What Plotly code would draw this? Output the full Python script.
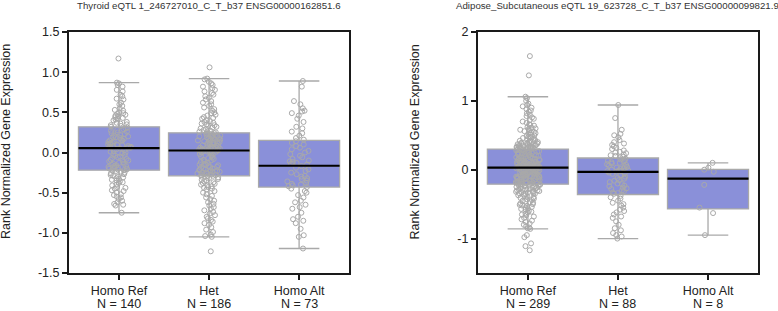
import plotly.graph_objects as go
from plotly.subplots import make_subplots

categories = ["Homo Ref", "Het", "Homo Alt"]

# ---- Panel 1: Thyroid ----
title1 = "Thyroid eQTL 1_246727010_C_T_b37 ENSG00000162851.6"
counts1 = [140, 186, 73]
q1_1 = [-0.22, -0.29, -0.43]
med_1 = [0.055, 0.025, -0.165]
q3_1 = [0.32, 0.245, 0.15]
lo_1 = [-0.75, -1.05, -1.195]
hi_1 = [0.87, 0.92, 0.89]

t_ref = [1.17, 0.87, 0.86, 0.84, 0.82, 0.78, 0.76, 0.72, 0.70, 0.67, 0.66, 0.62, 0.60, 0.58, 0.55,
         0.53, 0.52, 0.50, 0.49, 0.48, 0.47, 0.46, 0.45, 0.44, 0.43, 0.42, 0.41, 0.40, 0.38, 0.37,
         0.36, 0.35, 0.34, 0.33, 0.32,
         0.31, 0.30, 0.29, 0.28, 0.27, 0.26, 0.25, 0.24, 0.23, 0.22, 0.21, 0.20, 0.19, 0.19, 0.18,
         0.17, 0.16, 0.15, 0.15, 0.14, 0.13, 0.12, 0.12, 0.11, 0.10, 0.10, 0.09, 0.09, 0.08, 0.08,
         0.07, 0.07, 0.06, 0.06, 0.06,
         0.05, 0.04, 0.03, 0.02, 0.01, 0.00, -0.01, -0.02, -0.03, -0.04, -0.05, -0.06, -0.07, -0.08,
         -0.09, -0.10, -0.10, -0.11, -0.12, -0.13, -0.14, -0.14, -0.15, -0.16, -0.17, -0.17, -0.18,
         -0.19, -0.19, -0.20, -0.20, -0.21, -0.21, -0.22, -0.22,
         -0.23, -0.24, -0.25, -0.26, -0.27, -0.28, -0.29, -0.30, -0.31, -0.32, -0.33, -0.34, -0.35,
         -0.36, -0.37, -0.38, -0.40, -0.41, -0.43, -0.44, -0.45, -0.47, -0.48, -0.50, -0.52, -0.53,
         -0.55, -0.56, -0.58, -0.60, -0.62, -0.64, -0.65, -0.66, -0.75]
t_het = [1.06, 0.92, 0.91, 0.88, 0.86, 0.84, 0.82, 0.80, 0.78, 0.76, 0.74, 0.72, 0.70, 0.68, 0.66,
         0.64, 0.62, 0.60, 0.58, 0.56, 0.54, 0.52, 0.50, 0.49, 0.47, 0.46, 0.44, 0.43, 0.42, 0.40,
         0.39, 0.38, 0.37, 0.36, 0.35, 0.34, 0.33, 0.32, 0.31, 0.30, 0.29, 0.28, 0.27, 0.26, 0.26, 0.25,
         0.24, 0.24, 0.23, 0.23, 0.22, 0.22, 0.21, 0.21, 0.20, 0.20, 0.19, 0.19, 0.18, 0.18, 0.17,
         0.17, 0.16, 0.16, 0.15, 0.15, 0.14, 0.14, 0.13, 0.13, 0.12, 0.12, 0.11, 0.11, 0.10, 0.10,
         0.09, 0.09, 0.08, 0.08, 0.07, 0.07, 0.06, 0.06, 0.05, 0.05, 0.04, 0.04, 0.04, 0.03, 0.03,
         0.03, 0.03,
         0.02, 0.02, 0.01, 0.01, 0.00, 0.00, -0.01, -0.02, -0.03, -0.04, -0.05, -0.06, -0.07, -0.08,
         -0.09, -0.10, -0.11, -0.12, -0.13, -0.14, -0.15, -0.15, -0.16, -0.17, -0.18, -0.18, -0.19,
         -0.20, -0.20, -0.21, -0.21, -0.22, -0.22, -0.23, -0.23, -0.24, -0.24, -0.25, -0.25, -0.26,
         -0.26, -0.27, -0.27, -0.28, -0.28, -0.29, -0.29,
         -0.30, -0.31, -0.32, -0.33, -0.34, -0.35, -0.36, -0.37, -0.38, -0.39, -0.40, -0.41, -0.42,
         -0.43, -0.44, -0.45, -0.46, -0.48, -0.50, -0.52, -0.54, -0.56, -0.58, -0.60, -0.62, -0.64,
         -0.66, -0.68, -0.70, -0.72, -0.74, -0.76, -0.78, -0.80, -0.82, -0.84, -0.86, -0.88, -0.90,
         -0.93, -0.96, -0.99, -1.02, -1.04, -1.05, -1.23]
t_alt = [0.89, 0.82, 0.64, 0.60, 0.55, 0.52, 0.51, 0.49, 0.46, 0.42, 0.38, 0.32, 0.30, 0.26, 0.24,
         0.21, 0.18, 0.16,
         0.14, 0.12, 0.10, 0.08, 0.06, 0.04, 0.02, 0.00, -0.02, -0.04, -0.06, -0.08, -0.10, -0.11,
         -0.12, -0.13, -0.14, -0.15,
         -0.17, -0.19, -0.21, -0.23, -0.25, -0.27, -0.29, -0.30, -0.32, -0.33, -0.35, -0.36, -0.38,
         -0.39, -0.40, -0.41, -0.42, -0.43,
         -0.45, -0.48, -0.50, -0.53, -0.56, -0.60, -0.62, -0.65, -0.68, -0.70, -0.75, -0.80, -0.83,
         -0.85, -0.88, -0.95, -1.03, -1.05, -1.195]
yticks1 = [-1.5, -1.0, -0.5, 0.0, 0.5, 1.0, 1.5]
yticktext1 = ["-1.5", "-1.0", "-0.5", "0.0", "0.5", "1.0", "1.5"]

# ---- Panel 2: Adipose ----
title2 = "Adipose_Subcutaneous eQTL 19_623728_C_T_b37 ENSG00000099821.9"
counts2 = [289, 88, 8]
q1_2 = [-0.21, -0.36, -0.57]
med_2 = [0.03, -0.03, -0.13]
q3_2 = [0.30, 0.17, 0.005]
lo_2 = [-0.86, -1.0, -0.95]
hi_2 = [1.06, 0.94, 0.10]

a_ref = [1.65, 1.37, 1.06, 1.04, 1.00, 0.96, 0.94, 0.92, 0.90, 0.88,
         0.86, 0.84, 0.82, 0.80, 0.78, 0.76, 0.74, 0.72, 0.70, 0.68,
         0.66, 0.65, 0.64, 0.62, 0.61, 0.60, 0.59, 0.58, 0.57, 0.56,
         0.55, 0.54, 0.53, 0.52, 0.51, 0.50, 0.49, 0.48, 0.47, 0.46,
         0.45, 0.44, 0.43, 0.43, 0.42, 0.42, 0.41, 0.40, 0.40, 0.39,
         0.39, 0.38, 0.38, 0.37, 0.37, 0.36, 0.36, 0.35, 0.35, 0.34,
         0.34, 0.34, 0.33, 0.33, 0.33, 0.32, 0.32, 0.32, 0.31, 0.31, 0.31, 0.30,
         0.30, 0.29, 0.29, 0.28, 0.28, 0.27, 0.27, 0.26, 0.26, 0.25,
         0.25, 0.24, 0.24, 0.23, 0.23, 0.22, 0.22, 0.21, 0.21, 0.20,
         0.20, 0.19, 0.19, 0.18, 0.18, 0.18, 0.17, 0.17, 0.16, 0.16,
         0.16, 0.15, 0.15, 0.14, 0.14, 0.14, 0.13, 0.13, 0.12, 0.12,
         0.12, 0.11, 0.11, 0.10, 0.10, 0.10, 0.09, 0.09, 0.09, 0.08,
         0.08, 0.08, 0.07, 0.07, 0.07, 0.06, 0.06, 0.06, 0.06, 0.05,
         0.05, 0.05, 0.05, 0.04, 0.04, 0.04, 0.04, 0.04, 0.03, 0.03, 0.03, 0.03,
         0.02, 0.02, 0.02, 0.01, 0.01, 0.01, 0.00, 0.00, 0.00, -0.01,
         -0.01, -0.01, -0.02, -0.02, -0.02, -0.03, -0.03, -0.03, -0.04, -0.04,
         -0.04, -0.05, -0.05, -0.05, -0.06, -0.06, -0.06, -0.07, -0.07, -0.07,
         -0.08, -0.08, -0.08, -0.09, -0.09, -0.09, -0.10, -0.10, -0.10, -0.11,
         -0.11, -0.11, -0.12, -0.12, -0.12, -0.13, -0.13, -0.13, -0.14, -0.14,
         -0.14, -0.15, -0.15, -0.15, -0.16, -0.16, -0.16, -0.17, -0.17, -0.17,
         -0.18, -0.18, -0.18, -0.19, -0.19, -0.19, -0.20, -0.20, -0.20, -0.21, -0.21, -0.21,
         -0.22, -0.22, -0.23, -0.23, -0.24, -0.24, -0.25, -0.25, -0.26, -0.26,
         -0.27, -0.27, -0.28, -0.28, -0.29, -0.29, -0.30, -0.30, -0.31, -0.31,
         -0.32, -0.32, -0.33, -0.33, -0.34, -0.34, -0.35, -0.35, -0.36, -0.37,
         -0.38, -0.39, -0.40, -0.41, -0.42, -0.43, -0.44, -0.45, -0.46, -0.47,
         -0.48, -0.49, -0.50, -0.51, -0.52, -0.53, -0.54, -0.55, -0.56, -0.57,
         -0.58, -0.60, -0.61, -0.62, -0.64, -0.65, -0.66, -0.68, -0.70, -0.72,
         -0.74, -0.76, -0.78, -0.80, -0.82, -0.84, -0.86, -0.95, -0.98, -1.07,
         -1.11, -1.17, -0.85]
a_het = [0.94, 0.75, 0.58, 0.52, 0.50, 0.47, 0.43, 0.40, 0.38, 0.36, 0.34, 0.32, 0.30, 0.28, 0.26,
         0.25, 0.24, 0.22, 0.21, 0.20, 0.19, 0.18,
         0.16, 0.15, 0.14, 0.13, 0.12, 0.11, 0.10, 0.09, 0.08, 0.07, 0.06, 0.05, 0.04, 0.03, 0.02,
         0.01, 0.00, -0.01, -0.01, -0.02, -0.02, -0.03,
         -0.04, -0.05, -0.06, -0.08, -0.10, -0.12, -0.13, -0.15, -0.16, -0.18, -0.20, -0.21, -0.23,
         -0.24, -0.26, -0.27, -0.28, -0.30, -0.31, -0.33, -0.34, -0.35,
         -0.38, -0.40, -0.42, -0.45, -0.48, -0.50, -0.52, -0.55, -0.58, -0.60, -0.62, -0.65, -0.68,
         -0.70, -0.75, -0.80, -0.85, -0.88, -0.92, -0.95, -0.97, -1.00]
a_alt = [0.10, 0.03, 0.00, -0.03, -0.22, -0.55, -0.63, -0.95]
yticks2 = [-1, 0, 1, 2]
yticktext2 = ["-1", "0", "1", "2"]

FONT = "Liberation Sans, Arial, sans-serif"
FILL = "#8a90d9"
GREY = "#a9a9a9"

fig = make_subplots(rows=1, cols=2, horizontal_spacing=0.187)

panels = [
    (1, q1_1, med_1, q3_1, lo_1, hi_1, [t_ref, t_het, t_alt]),
    (2, q1_2, med_2, q3_2, lo_2, hi_2, [a_ref, a_het, a_alt]),
]
pos = list(range(len(categories)))
for col, q1, med, q3, lo, hi, groups in panels:
    fig.add_trace(go.Box(x=pos, q1=q1, median=med, q3=q3, lowerfence=lo, upperfence=hi,
                         width=0.9, whiskerwidth=0.5, fillcolor=FILL,
                         line=dict(color=GREY, width=1.3), boxpoints=False,
                         hoverinfo="skip", showlegend=False), row=1, col=col)
    xs, ys = [], []
    for i, g in enumerate(groups):
        xs += [i] * len(g)
        ys += g
    fig.add_trace(go.Box(x=xs, y=ys, boxpoints="all", jitter=0.3, pointpos=0, width=0.9,
                         fillcolor="rgba(0,0,0,0)", line=dict(color="rgba(0,0,0,0)", width=0),
                         whiskerwidth=0,
                         marker=dict(size=5, color="rgba(255,255,255,0)",
                                     line=dict(color=GREY, width=1)),
                         showlegend=False), row=1, col=col)
    fig.add_trace(go.Box(x=pos, q1=med, median=med, q3=med, lowerfence=med, upperfence=med,
                         width=0.9, whiskerwidth=0, fillcolor="rgba(0,0,0,0)",
                         line=dict(color="#000000", width=2.2), boxpoints=False,
                         hoverinfo="skip", showlegend=False), row=1, col=col)

axis_common = dict(showline=True, linecolor="#1a1a1a", linewidth=2, mirror=True,
                   ticks="outside", ticklen=5, tickwidth=2, tickcolor="#1a1a1a",
                   showgrid=False, zeroline=False,
                   tickfont=dict(family=FONT, size=12.5, color="#222"))
for col in (1, 2):
    fig.update_xaxes(range=[-0.555, 2.555], tickvals=pos, ticktext=categories,
                     **axis_common, row=1, col=col)
fig.update_yaxes(range=[-1.5, 1.5], tickvals=yticks1, ticktext=yticktext1, **axis_common, row=1, col=1)
fig.update_yaxes(range=[-1.5, 2.0], tickvals=yticks2, ticktext=yticktext2, **axis_common, row=1, col=2)

annotations = []
for xr, cnts in (("x", counts1), ("x2", counts2)):
    for i, n in enumerate(cnts):
        annotations.append(dict(x=i, y=0, xref=xr, yref="paper", yanchor="middle",
                                xanchor="center", yshift=-31, text=f"N = {n}", showarrow=False,
                                font=dict(family=FONT, size=12.5, color="#222")))
annotations.append(dict(x=0.2032, y=1.108, xref="paper", yref="paper", text=title1,
                        showarrow=False, xanchor="center", yanchor="middle",
                        font=dict(family=FONT, size=9.7, color="#333")))
annotations.append(dict(x=0.7968, y=1.108, xref="paper", yref="paper", text=title2,
                        showarrow=False, xanchor="center", yanchor="middle",
                        font=dict(family=FONT, size=9.7, color="#333")))
for xp in (-0.0914, 0.5015):
    annotations.append(dict(x=xp, y=0.5436, xref="paper", yref="paper",
                            text="Rank Normalized Gene Expression", textangle=-90,
                            showarrow=False, xanchor="center", yanchor="middle",
                            font=dict(family=FONT, size=12.5, color="#222")))

fig.update_layout(width=778, height=311, margin=dict(l=69, r=20, t=32, b=38),
                  paper_bgcolor="white", plot_bgcolor="white", boxmode="overlay",
                  annotations=annotations, showlegend=False)
fig.write_html("out.html", config={"displayModeBar": False},
               post_script="document.body.style.margin='0';document.body.style.overflow='hidden';")
